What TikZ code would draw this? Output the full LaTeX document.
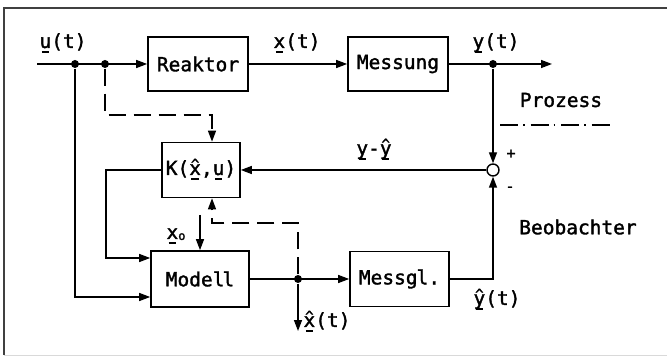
\documentclass[tikz,border=0pt]{standalone}
\usepackage{fontspec}
\setmainfont[FakeBold=1.6,BoldFont={DejaVu Sans Mono}]{DejaVu Sans Mono}
\usetikzlibrary{arrows.meta}
% underlined letter, bar slightly narrower than the glyph
\newsavebox\ulbox
\newcommand\ubar[1]{\sbox\ulbox{#1}\leavevmode\rlap{\hbox to\wd\ulbox{\hss\raisebox{-4.8pt}{\rule{0.62\wd\ulbox}{1.4pt}}\hss}}\usebox\ulbox}
% letter with a small hat on top
\newcommand\hatl[1]{\ooalign{#1\cr\hidewidth\raisebox{6pt}{\fontsize{14pt}{14pt}\selectfont\^{}}\hidewidth\cr}}
\begin{document}
\begin{tikzpicture}[x=1pt,y=-1pt,
  font=\fontsize{19.5pt}{21pt}\selectfont\bfseries,
  line width=1.4pt,
  >={Triangle[length=11pt,width=8pt]},
  blk/.style={draw,line width=1.7pt,inner sep=0pt,minimum width=#1,minimum height=54pt},
  sig/.style={->},
  obs/.style={->,dash pattern=on 17pt off 8pt},
  jdot/.style={circle,fill,inner sep=0pt,minimum size=8pt}]
\useasboundingbox (0,0) rectangle (667,358);
% frame
\draw[line width=1.2pt,black!75] (667,8) -- (4,8) -- (4,355);
\draw[line width=1pt,black!15] (4,355) -- (667,355);

% blocks
\node[blk=100pt] (reak) at (198,64) {Reaktor};
\node[blk=100pt] (mess) at (398,64) {Messung};
\node[blk=78pt,minimum height=55pt] (kbox) at (201,170) {K(\ubar{\hatl{x}},\ubar{u})};
\node[blk=98pt,minimum height=56pt] (mod) at (200,279) {Model\hspace{-2pt}l};
\node[blk=99pt,minimum height=55pt] (mg) at (399.5,279) {Messg\hspace{-1pt}l.};
\node[circle,draw,line width=1.4pt,minimum size=12pt,inner sep=0pt] (sum) at (493,170) {};

% junctions and free ends
\coordinate (ustart) at (37,64);
\node[jdot] (ja) at (75,64) {};
\node[jdot] (jb) at (105,64) {};
\node[jdot] (jy) at (493,64) {};
\node[jdot] (jx) at (298,279) {};
\coordinate (yend) at (552,64);
\coordinate (xend) at (298,331);
\coordinate (kl) at (106,170);
\coordinate (db) at (105,115);
\coordinate (dx) at (298,223);
\coordinate (x0s) at (200,215);

% process path
\draw[sig] (ustart) -- (reak.west);
\draw[sig] (reak.east) -- (mess.west);
\draw[sig] (mess.east) -- (yend);
\draw[sig] (jy) -- (sum.north);

% observer path
\draw[sig] (sum.west) -- (kbox.east);
\draw[sig] (kbox.west) -- (kl) |- ([yshift=21pt]mod.west);
\draw[sig] (ja) |- ([yshift=-18pt]mod.west);
\draw[sig] (x0s) -- (mod.north);
\draw[sig] (mod.east) -- (mg.west);
\draw[sig] (jx) -- (xend);
\draw[sig] (mg.east) -| (sum.south);

% dashed adaptation paths
\draw[obs] (jb) -- (db) -| ([xshift=11pt]kbox.north);
\draw[obs] (jx) -- (dx) -| ([xshift=11pt]kbox.south);

% labels
\node (lu) at (63,43) {\ubar{u}(t)};
\node (lx) at (297,43) {\ubar{x}(t)};
\node (ly) at (496,43) {\ubar{y}(t)};
\node (lproz) at (561,100) {Prozess};
\draw[line width=1.3pt,dash pattern=on 18pt off 5pt on 1.5pt off 6pt] (500,125) coordinate (sep1) -- (611,125) coordinate (sep2);
\node[font=\fontsize{15pt}{16pt}\selectfont\bfseries] (lplus) at (511,154) {+};
\node[font=\fontsize{15pt}{16pt}\selectfont\bfseries] (lminus) at (510,189) {-};
\node (lerr) at (374,152) {\ubar{y}-\ubar{\hatl{y}}};
\node (lx0) at (176,236) {\ubar{x}\raisebox{-1pt}{\fontsize{12pt}{12pt}\selectfont o}};
\node (lxh) at (327,322) {\ubar{\hatl{x}}(t)};
\node (lyh) at (497,300) {\ubar{\hatl{y}}(t)};
\node (lbeo) at (578,227) {Beobachter};
\end{tikzpicture}
\end{document}
